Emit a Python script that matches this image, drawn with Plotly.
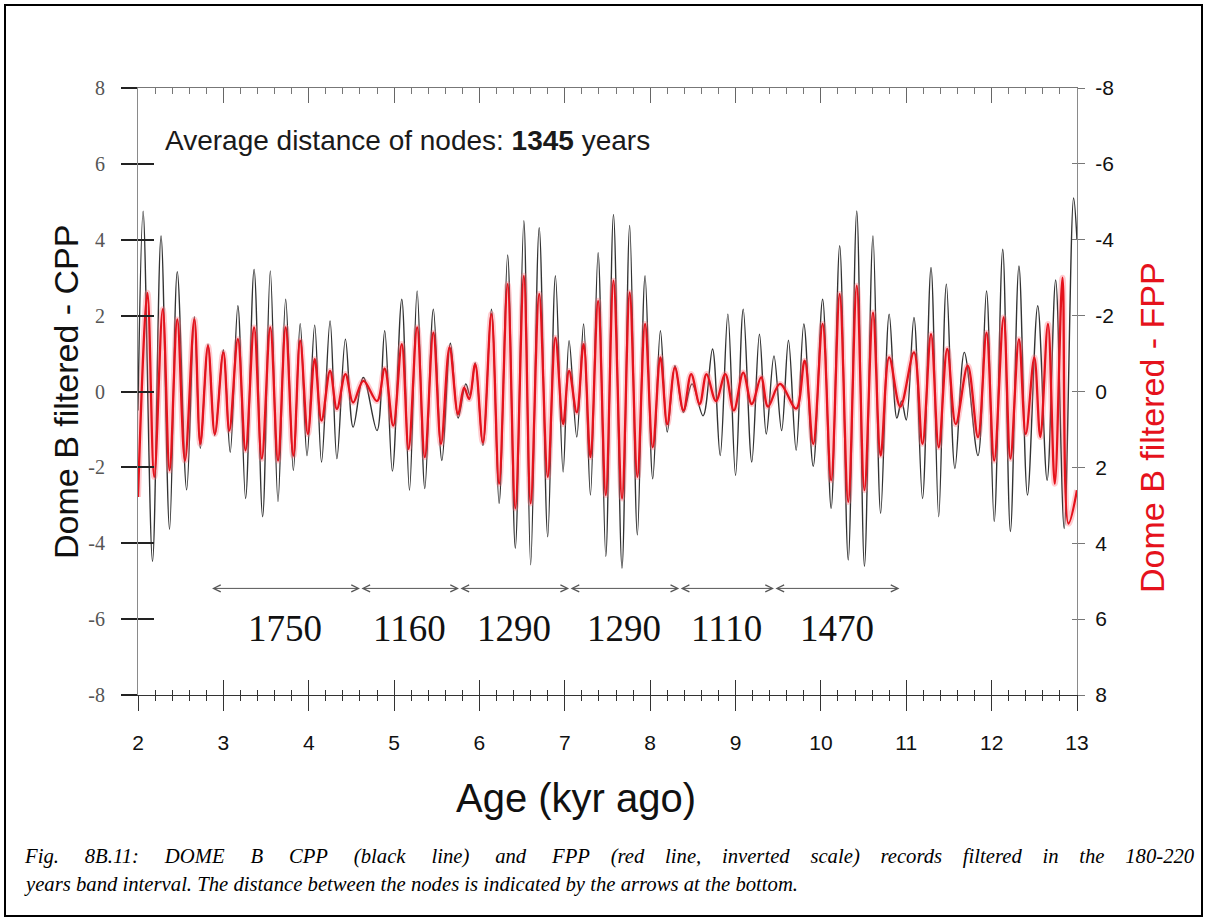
import plotly.graph_objects as go

# ---------------- data ----------------
# DOME B CPP, band-pass filtered (180-220 yr): turning points (age in kyr, value)
cpp_age = [2.00, 2.06, 2.17, 2.27, 2.37, 2.46, 2.57, 2.66, 2.73, 2.82,
           2.90, 3.00, 3.08, 3.17, 3.26, 3.36, 3.46, 3.55, 3.64, 3.73,
           3.82, 3.90, 3.98, 4.07, 4.15, 4.25, 4.33, 4.43, 4.52, 4.64,
           4.80, 4.89, 4.98, 5.09, 5.18, 5.27, 5.36, 5.46, 5.56, 5.66,
           5.75, 5.84, 5.89, 5.95, 6.04, 6.14, 6.23, 6.33, 6.42, 6.52,
           6.60, 6.70, 6.80, 6.89, 6.98, 7.05, 7.14, 7.22, 7.30, 7.39,
           7.48, 7.57, 7.67, 7.76, 7.85, 7.94, 8.03, 8.12, 8.20, 8.29,
           8.39, 8.49, 8.62, 8.73, 8.82, 8.91, 9.00, 9.09, 9.19, 9.28,
           9.36, 9.45, 9.54, 9.62, 9.71, 9.80, 9.91, 10.02, 10.12, 10.22,
           10.32, 10.42, 10.51, 10.61, 10.70, 10.80, 10.89, 10.945, 11.00, 11.09,
           11.19, 11.29, 11.38, 11.47, 11.57, 11.68, 11.84, 11.94, 12.03, 12.13,
           12.22, 12.32, 12.42, 12.54, 12.65, 12.75, 12.85, 12.96, 13.00]
cpp = [-0.5, 4.75, -4.48, 4.10, -3.63, 3.16, -2.59, 1.97, -1.50, 1.25,
       -1.16, 1.10, -1.60, 2.26, -2.82, 3.22, -3.30, 3.18, -2.90, 2.43,
       -2.08, 1.79, -1.69, 1.75, -1.86, 1.86, -1.77, 1.38, -0.94, 0.37,
       -1.03, 1.60, -2.10, 2.43, -2.60, 2.65, -2.56, 2.17, -1.82, 1.27,
       -0.70, 0.20, -0.10, 0.76, -1.42, 2.17, -2.95, 3.60, -4.13, 4.50,
       -4.57, 4.32, -3.83, 3.05, -2.12, 1.34, -1.20, 1.78, -2.73, 3.66,
       -4.35, 4.67, -4.66, 4.38, -3.78, 3.05, -2.30, 1.60, -1.07, 0.68,
       -0.55, 0.20, -0.64, 1.12, -1.69, 2.04, -2.21, 2.17, -1.86, 1.51,
       -1.12, 0.94, -1.03, 1.35, -1.55, 1.78, -1.97, 2.43, -3.08, 3.84,
       -4.44, 4.76, -4.61, 4.10, -3.21, 2.04, -0.70, -0.25, -0.75, 1.95,
       -2.82, 3.27, -3.30, 2.83, -2.03, 1.03, -1.69, 2.65, -3.43, 3.75,
       -3.69, 3.31, -2.73, 2.26, -2.34, 2.94, -3.61, 5.10, 4.0]

# DOME B FPP, same band, plotted against an inverted right-hand scale
fpp_age = [2.00, 2.11, 2.19, 2.29, 2.37, 2.46, 2.55, 2.66, 2.73, 2.82,
           2.90, 3.00, 3.07, 3.17, 3.26, 3.36, 3.45, 3.55, 3.64, 3.73,
           3.82, 3.90, 3.99, 4.07, 4.15, 4.25, 4.33, 4.43, 4.52, 4.64,
           4.80, 4.89, 4.99, 5.09, 5.17, 5.27, 5.36, 5.46, 5.55, 5.65,
           5.75, 5.82, 5.88, 5.95, 6.04, 6.14, 6.23, 6.33, 6.42, 6.52,
           6.60, 6.70, 6.80, 6.89, 6.98, 7.05, 7.14, 7.22, 7.30, 7.39,
           7.48, 7.57, 7.67, 7.76, 7.85, 7.94, 8.03, 8.12, 8.20, 8.29,
           8.39, 8.48, 8.58, 8.66, 8.77, 8.88, 8.98, 9.09, 9.19, 9.30,
           9.38, 9.52, 9.71, 9.81, 9.91, 10.02, 10.12, 10.22, 10.32, 10.42,
           10.51, 10.61, 10.70, 10.80, 10.93, 11.09, 11.19, 11.29, 11.38, 11.48,
           11.58, 11.72, 11.84, 11.94, 12.03, 12.14, 12.22, 12.32, 12.40, 12.50,
           12.57, 12.66, 12.74, 12.83, 12.90, 13.00]
fpp = [2.78, -2.60, 2.25, -2.17, 2.08, -1.90, 1.82, -1.90, 1.38, -1.20,
       1.12, -1.03, 1.03, -1.38, 1.55, -1.69, 1.77, -1.69, 1.82, -1.69,
       1.69, -1.34, 1.12, -0.85, 0.77, -0.54, 0.46, -0.46, 0.29, -0.28,
       0.25, -0.60, 0.90, -1.25, 1.51, -1.69, 1.73, -1.55, 1.38, -1.16,
       0.60, -0.10, 0.20, -0.72, 1.34, -2.04, 2.43, -2.83, 3.08, -3.05,
       2.95, -2.57, 2.25, -1.42, 0.86, -0.54, 0.55, -1.25, 1.73, -2.39,
       2.73, -2.92, 2.82, -2.61, 2.25, -1.78, 1.47, -0.90, 0.86, -0.63,
       0.50, -0.46, 0.33, -0.46, 0.25, -0.46, 0.50, -0.50, 0.33, -0.37,
       0.40, -0.20, 0.45, -0.81, 1.38, -1.78, 2.34, -2.57, 2.91, -2.79,
       2.60, -2.08, 1.69, -0.90, 0.40, -1.03, 1.38, -1.51, 1.47, -1.12,
       0.86, -0.68, 1.20, -1.55, 1.82, -1.95, 1.77, -1.38, 1.12, -0.90,
       1.20, -1.78, 2.43, -3.00, 3.48, 2.60]

# spacing between successive nodes (years), starting node (kyr)
node_spacing = [1750, 1160, 1290, 1290, 1110, 1470]
first_node = 2.85
average_spacing = 1345

age_ticks = [2, 3, 4, 5, 6, 7, 8, 9, 10, 11, 12, 13]
age_tick_text = ["2", "3", "4", "5", "6", "7", "8", "9", "10", "11", "12", "13"]
value_ticks = [-8, -6, -4, -2, 0, 2, 4, 6, 8]
value_tick_text = ["-8", "-6", "-4", "-2", "0", "2", "4", "6", "8"]

caption_line1 = ("Fig. 8B.11: DOME B CPP (black line) and FPP (red line, inverted scale) "
                 "records filtered in the 180-220")
caption_line2 = ("years band interval. The distance between the nodes is indicated "
                 "by the arrows at the bottom.")

# ---------------- layout helpers ----------------
W, H = 1206, 918
ML, MR, MT, MB = 138, 129, 88, 223
PW, PH = W - ML - MR, H - MT - MB


def fx(px):
    return (px - ML) / PW


def fy(py):
    return (H - MB - py) / PH


def justify(line, extra):
    """Widen the word gaps of a caption line (full-justified look)."""
    words = line.split(" ")
    out = words[0]
    for i, w in enumerate(words[1:]):
        n = 4 + (1 if i < extra else 0)
        out += "\u00a0" * (n - 1) + " " + w
    return out


SANS = "Liberation Sans, Arial, sans-serif"
SERIF = "Liberation Serif, Times New Roman, serif"
RED = "#e5121c"

fig = go.Figure()

fig.add_trace(go.Scatter(
    x=cpp_age, y=cpp, mode="lines", xaxis="x", yaxis="y",
    line=dict(color="#333333", width=1.4, shape="spline", smoothing=1.0),
    hoverinfo="skip", showlegend=False))
fig.add_trace(go.Scatter(
    x=fpp_age, y=fpp, mode="lines", xaxis="x", yaxis="y2",
    line=dict(color="rgba(255,110,120,0.35)", width=6, shape="spline", smoothing=1.0),
    hoverinfo="skip", showlegend=False))
fig.add_trace(go.Scatter(
    x=fpp_age, y=fpp, mode="lines", xaxis="x", yaxis="y2",
    line=dict(color=RED, width=2.3, shape="spline", smoothing=1.0),
    hoverinfo="skip", showlegend=False))

# empty traces so the extra tick-only axes get drawn
for xa, ya in [("x2", "y"), ("x3", "y"), ("x", "y3"), ("x", "y4")]:
    fig.add_trace(go.Scatter(x=[], y=[], xaxis=xa, yaxis=ya, mode="lines",
                             hoverinfo="skip", showlegend=False))

# ---------------- node arrows ----------------
annotations = []
arrow_y = -5.19
label_y = -6.25
start = first_node
for span in node_spacing:
    end = start + span / 1000.0
    annotations.append(dict(
        x=end, y=arrow_y, ax=start, ay=arrow_y, xref="x", yref="y",
        axref="x", ayref="y", text="", showarrow=True,
        arrowhead=5, startarrowhead=5, arrowside="end+start",
        arrowsize=1.4, startarrowsize=1.4, arrowwidth=1, arrowcolor="#555"))
    annotations.append(dict(
        x=(start + end) / 2, y=label_y, xref="x", yref="y", text=str(span),
        showarrow=False, xanchor="center", yanchor="middle",
        font=dict(family=SERIF, size=37, color="#111")))
    start = end

annotations += [
    dict(x=fx(163), y=fy(141), xref="paper", yref="paper", xanchor="left",
         yanchor="middle", showarrow=False,
         text=f"Average distance of nodes: <b>{average_spacing}</b> years",
         font=dict(family=SANS, size=28, color="#1a1a1a")),
    dict(x=fx(66), y=fy(392), xref="paper", yref="paper", textangle=-90,
         xanchor="center", yanchor="middle", showarrow=False,
         text="Dome B filtered - CPP",
         font=dict(family=SANS, size=34, color="#111")),
    dict(x=fx(1152), y=fy(428), xref="paper", yref="paper", textangle=-90,
         xanchor="center", yanchor="middle", showarrow=False,
         text="Dome B filtered - FPP",
         font=dict(family=SANS, size=34, color=RED)),
    dict(x=fx(576), y=fy(798), xref="paper", yref="paper", showarrow=False,
         xanchor="center", yanchor="middle",
         text="Age (kyr ago)", font=dict(family=SANS, size=40, color="#111")),
    dict(x=fx(22), y=fy(856), xref="paper", yref="paper", xanchor="left",
         yanchor="middle", showarrow=False,
         text="<i>" + justify(caption_line1, 8) + "</i>",
         font=dict(family=SERIF, size=20.7, color="#000")),
    dict(x=fx(22), y=fy(884), xref="paper", yref="paper", xanchor="left",
         yanchor="middle", showarrow=False,
         text="<i>" + caption_line2 + "</i>",
         font=dict(family=SERIF, size=20.7, color="#000")),
]

# outer frame
shapes = [dict(type="rect", xref="paper", yref="paper",
               x0=fx(5), x1=fx(1202), y0=fy(916), y1=fy(5),
               line=dict(color="#000", width=2))]

axis_common = dict(showgrid=False, zeroline=False)

fig.update_layout(
    width=W, height=H,
    margin=dict(l=ML, r=MR, t=MT, b=MB, pad=0),
    paper_bgcolor="white", plot_bgcolor="white",
    showlegend=False,
    annotations=annotations,
    shapes=shapes,
    xaxis=dict(range=[2, 13], tickmode="array", tickvals=age_ticks,
               ticktext=age_tick_text, ticks="outside", ticklen=15,
               tickwidth=1, tickcolor="#333", showline=True, linecolor="#333",
               linewidth=1, anchor="y", ticklabelstandoff=14,
               tickfont=dict(family=SANS, size=21, color="#111"),
               minor=dict(dtick=0.2, tick0=2, ticks="outside", ticklen=5,
                          tickcolor="#333", showgrid=False),
               **axis_common),
    xaxis2=dict(range=[2, 13], overlaying="x", side="top", anchor="y",
                tickmode="array", tickvals=age_ticks, ticks="inside",
                ticklen=15, tickcolor="#666", showticklabels=False,
                showline=True, linecolor="#777", linewidth=1,
                minor=dict(dtick=0.2, tick0=2, ticks="inside", ticklen=6,
                           tickcolor="#777", showgrid=False),
                **axis_common),
    xaxis3=dict(range=[2, 13], overlaying="x", side="bottom", anchor="y",
                tickmode="array", tickvals=age_ticks, ticks="inside",
                ticklen=15, tickcolor="#333", showticklabels=False,
                showline=False,
                minor=dict(dtick=0.2, tick0=2, ticks="inside", ticklen=5,
                           tickcolor="#333", showgrid=False),
                **axis_common),
    yaxis=dict(range=[-8, 8], tickmode="array", tickvals=value_ticks,
               ticktext=value_tick_text, ticks="outside", ticklen=16,
               tickwidth=1.5, tickcolor="#222", showline=True,
               linecolor="#8a8a8a", linewidth=1, anchor="x",
               ticklabelstandoff=12,
               tickfont=dict(family=SERIF, size=20, color="#555"),
               **axis_common),
    yaxis3=dict(range=[-8, 8], overlaying="y", side="left", anchor="x",
                tickmode="array", tickvals=value_ticks, ticks="inside",
                ticklen=16, tickwidth=1.5, tickcolor="#222",
                showticklabels=False, showline=False, **axis_common),
    yaxis2=dict(range=[8, -8], overlaying="y", side="right", anchor="x",
                tickmode="array", tickvals=value_ticks,
                ticktext=value_tick_text, ticks="outside", ticklen=7,
                tickcolor="#777", showline=True, linecolor="#8a8a8a",
                linewidth=1, ticklabelstandoff=6,
                tickfont=dict(family=SANS, size=21, color="#111"),
                **axis_common),
    yaxis4=dict(range=[8, -8], overlaying="y", side="right", anchor="x",
                tickmode="array", tickvals=value_ticks, ticks="inside",
                ticklen=5, tickcolor="#777", showticklabels=False,
                showline=False, **axis_common),
)

fig.write_html("out.html")
